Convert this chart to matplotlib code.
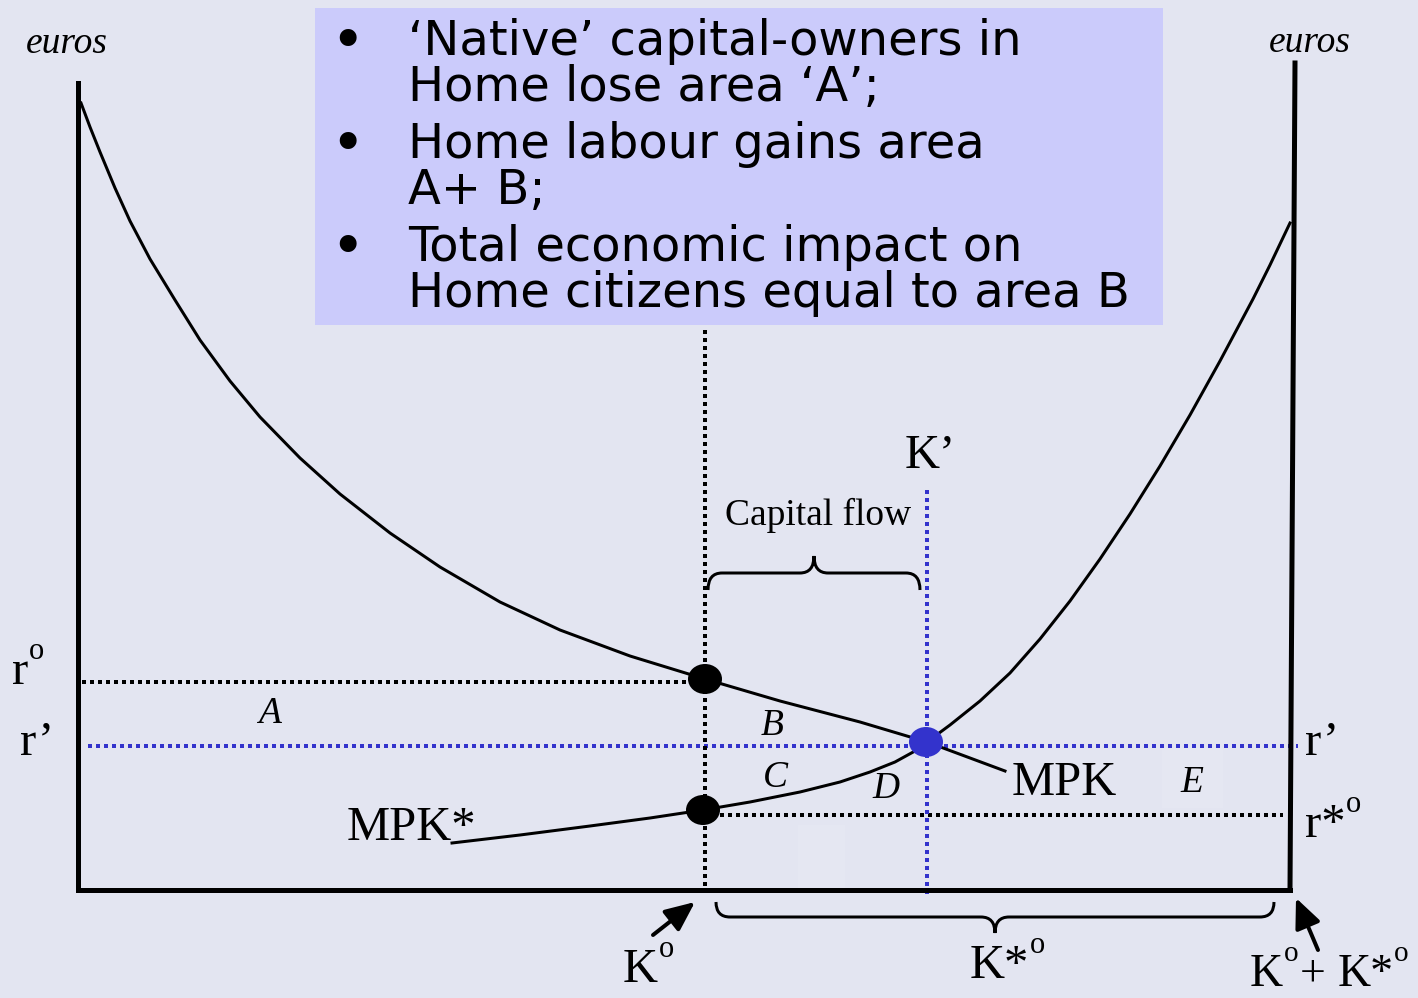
import matplotlib
matplotlib.use("Agg")
import matplotlib.pyplot as plt
from matplotlib.patches import Ellipse, Rectangle, PathPatch, FancyArrowPatch
from matplotlib.path import Path

# ---------------- data (diagram coordinates, pixel-like units) -------------
mpk_x = [81, 90, 100, 115, 130, 150, 175, 200, 230, 260, 300, 340, 390, 440,
         500, 560, 630, 705, 780, 860, 927, 1005]
mpk_y = [103, 127, 152, 188, 221, 259, 300, 340, 381, 417, 458, 494, 533, 567,
         602, 630, 656, 679, 701, 722, 742, 771]

mpks_x = [452, 520, 590, 650, 703, 750, 800, 840, 870, 895, 915, 927, 950, 980,
          1010, 1040, 1070, 1100, 1130, 1160, 1190, 1220, 1253, 1270, 1290]
mpks_y = [843, 835, 826, 818, 810, 802, 792, 782, 772, 762, 751, 742, 725, 701,
          673, 639, 601, 559, 514, 466, 415, 361, 299, 265, 223]

# axes frame of the diagram
frame_x = [78, 78, 1290, 1295]
frame_y = [83, 890, 890, 63]

# rates / capital stocks
r0, r1, rs0 = 682, 746, 815
K0_x, K1_x = 705, 927

dots_x = [705, 703, 926]
dots_y = [679, 810, 742]
dots_c = ['black', 'black', '#3333CC']

bullets = ["\u2018Native\u2019 capital-owners in", "Home lose area \u2018A\u2019;",
           "Home labour gains area", "A+ B;",
           "Total economic impact on", "Home citizens equal to area B"]
bullet_base = [55, 101, 158, 204, 261, 307]
bullet_marks = [0, 2, 4]

BG = '#E3E5F1'
BOX = '#CBCBFB'
BLUE = '#3333CC'

fig = plt.figure(figsize=(14.18, 9.98), dpi=100, facecolor=BG)
ax = fig.add_axes([0, 0, 1, 1])
ax.set_xlim(0, 1418)
ax.set_ylim(998, 0)
ax.axis('off')
ax.set_facecolor(BG)
renderer = fig.canvas.get_renderer()

px = 72 / 100.0  # points per pixel

# faint lighter patches present in the original slide
ax.add_patch(Rectangle((798, 825), 47, 65, facecolor='#E5E7F2', edgecolor='none', zorder=0.5))
ax.add_patch(Rectangle((1162, 748), 61, 60, facecolor='#E5E7F2', edgecolor='none', zorder=0.5))

# text box
ax.add_patch(Rectangle((315, 8), 848, 317, facecolor=BOX, edgecolor='none', zorder=1))
for i, (line, yb) in enumerate(zip(bullets, bullet_base)):
    ax.text(408, yb, line, fontsize=34.6, family='DejaVu Sans', va='baseline',
            ha='left', color='black', zorder=5)
    if i in bullet_marks:
        ax.text(347, yb + 4, "\u2022", fontsize=42, family='DejaVu Sans',
                va='baseline', ha='center', zorder=5)

# dotted guide lines
dot = dict(linestyle=(0, (1, 1)), linewidth=4 * px, solid_capstyle='butt',
           dash_capstyle='butt', zorder=2)
ax.plot([82, K0_x], [r0, r0], color='black', **dot)
ax.plot([88, 1298], [r1, r1], color=BLUE, **dot)
ax.plot([720, 1283], [rs0, rs0], color='black', **dot)
ax.plot([K0_x, K0_x], [330, 890], color='black', **dot)
ax.plot([K1_x, K1_x], [490, 895], color=BLUE, **dot)

# frame
ax.plot(frame_x[:3], frame_y[:3], color='black', lw=5 * px, solid_joinstyle='miter',
        zorder=3)
ax.plot(frame_x[2:], frame_y[2:], color='black', lw=5 * px, zorder=3)

# curves
ax.plot(mpk_x, mpk_y, color='black', lw=3 * px, solid_joinstyle='round', zorder=4)
ax.plot(mpks_x, mpks_y, color='black', lw=3 * px, solid_joinstyle='round', zorder=4)

# dots
for x, y, c in zip(dots_x, dots_y, dots_c):
    ax.add_patch(Ellipse((x, y), 34, 30, facecolor=c, edgecolor='none', zorder=6))


def brace(x0, x1, y_end, y_h, y_tip, r=14):
    xm = (x0 + x1) / 2.0
    verts = [(x0, y_end), (x0, y_h), (x0 + r, y_h),
             (xm - r, y_h), (xm, y_h), (xm, y_tip),
             (xm, y_h), (xm + r, y_h),
             (x1 - r, y_h), (x1, y_h), (x1, y_end)]
    codes = [Path.MOVETO, Path.CURVE3, Path.CURVE3,
             Path.LINETO, Path.CURVE3, Path.CURVE3,
             Path.CURVE3, Path.CURVE3,
             Path.LINETO, Path.CURVE3, Path.CURVE3]
    ax.add_patch(PathPatch(Path(verts, codes), facecolor='none', edgecolor='black',
                           lw=3 * px, zorder=4))


brace(708, 920, 590, 573, 556)
brace(716, 1274, 902, 917, 933)

# arrows
for (xs, ys), (xe, ye) in [((653, 935), (695, 902)), ((1318, 950), (1296, 898))]:
    ax.add_patch(FancyArrowPatch((xs, ys), (xe, ye),
                                 arrowstyle='-|>,head_length=0.9,head_width=0.4',
                                 mutation_scale=20, lw=4 * px, color='black', zorder=5,
                                 shrinkA=0, shrinkB=0))

serif = 'Liberation Serif'
big = 35
it = 27


def rich(x, y, parts, size=big, sup_size=22, raise_px=25, gap=1.5):
    """parts: list of (string, is_superscript); drawn left to right."""
    cur = x
    inv = ax.transData.inverted()
    for s, sup in parts:
        t = ax.text(cur, y - (raise_px if sup else 0), s,
                    fontsize=sup_size if sup else size, family=serif,
                    ha='left', va='baseline', zorder=5)
        bb = t.get_window_extent(renderer)
        cur = inv.transform((bb.x1, bb.y0))[0] + (gap if sup else 0.5)


# labels
ax.text(67, 53, 'euros', fontsize=it, family=serif, style='italic', ha='center', va='baseline')
ax.text(1310, 52, 'euros', fontsize=it, family=serif, style='italic', ha='center', va='baseline')
rich(12, 684, [('r', False), ('o', True)])
ax.text(20, 755, 'r\u2019', fontsize=big, family=serif, ha='left', va='baseline')
ax.text(1305, 755, 'r\u2019', fontsize=big, family=serif, ha='left', va='baseline')
rich(1305, 837, [('r*', False), ('o', True)])
for s, x, y in [('A', 269, 723), ('B', 772, 735), ('C', 775, 787), ('D', 886, 798),
                ('E', 1192, 792)]:
    ax.text(x, y, s, fontsize=it, family=serif, style='italic', ha='center', va='baseline')
ax.text(1012, 795, 'MPK', fontsize=big, family=serif, ha='left', va='baseline')
ax.text(347, 840, 'MPK*', fontsize=big, family=serif, ha='left', va='baseline')
ax.text(905, 468, 'K\u2019', fontsize=big, family=serif, ha='left', va='baseline')
ax.text(725, 525, 'Capital flow', fontsize=it, family=serif, ha='left', va='baseline')
rich(623, 982, [('K', False), ('o', True)])
rich(970, 978, [('K*', False), ('o', True)])
rich(1250, 986, [('K', False), ('o', True), ('+ ', False), ('K*', False), ('o', True)],
     size=33, sup_size=21)

fig.savefig('out.png', dpi=100, facecolor=BG)
